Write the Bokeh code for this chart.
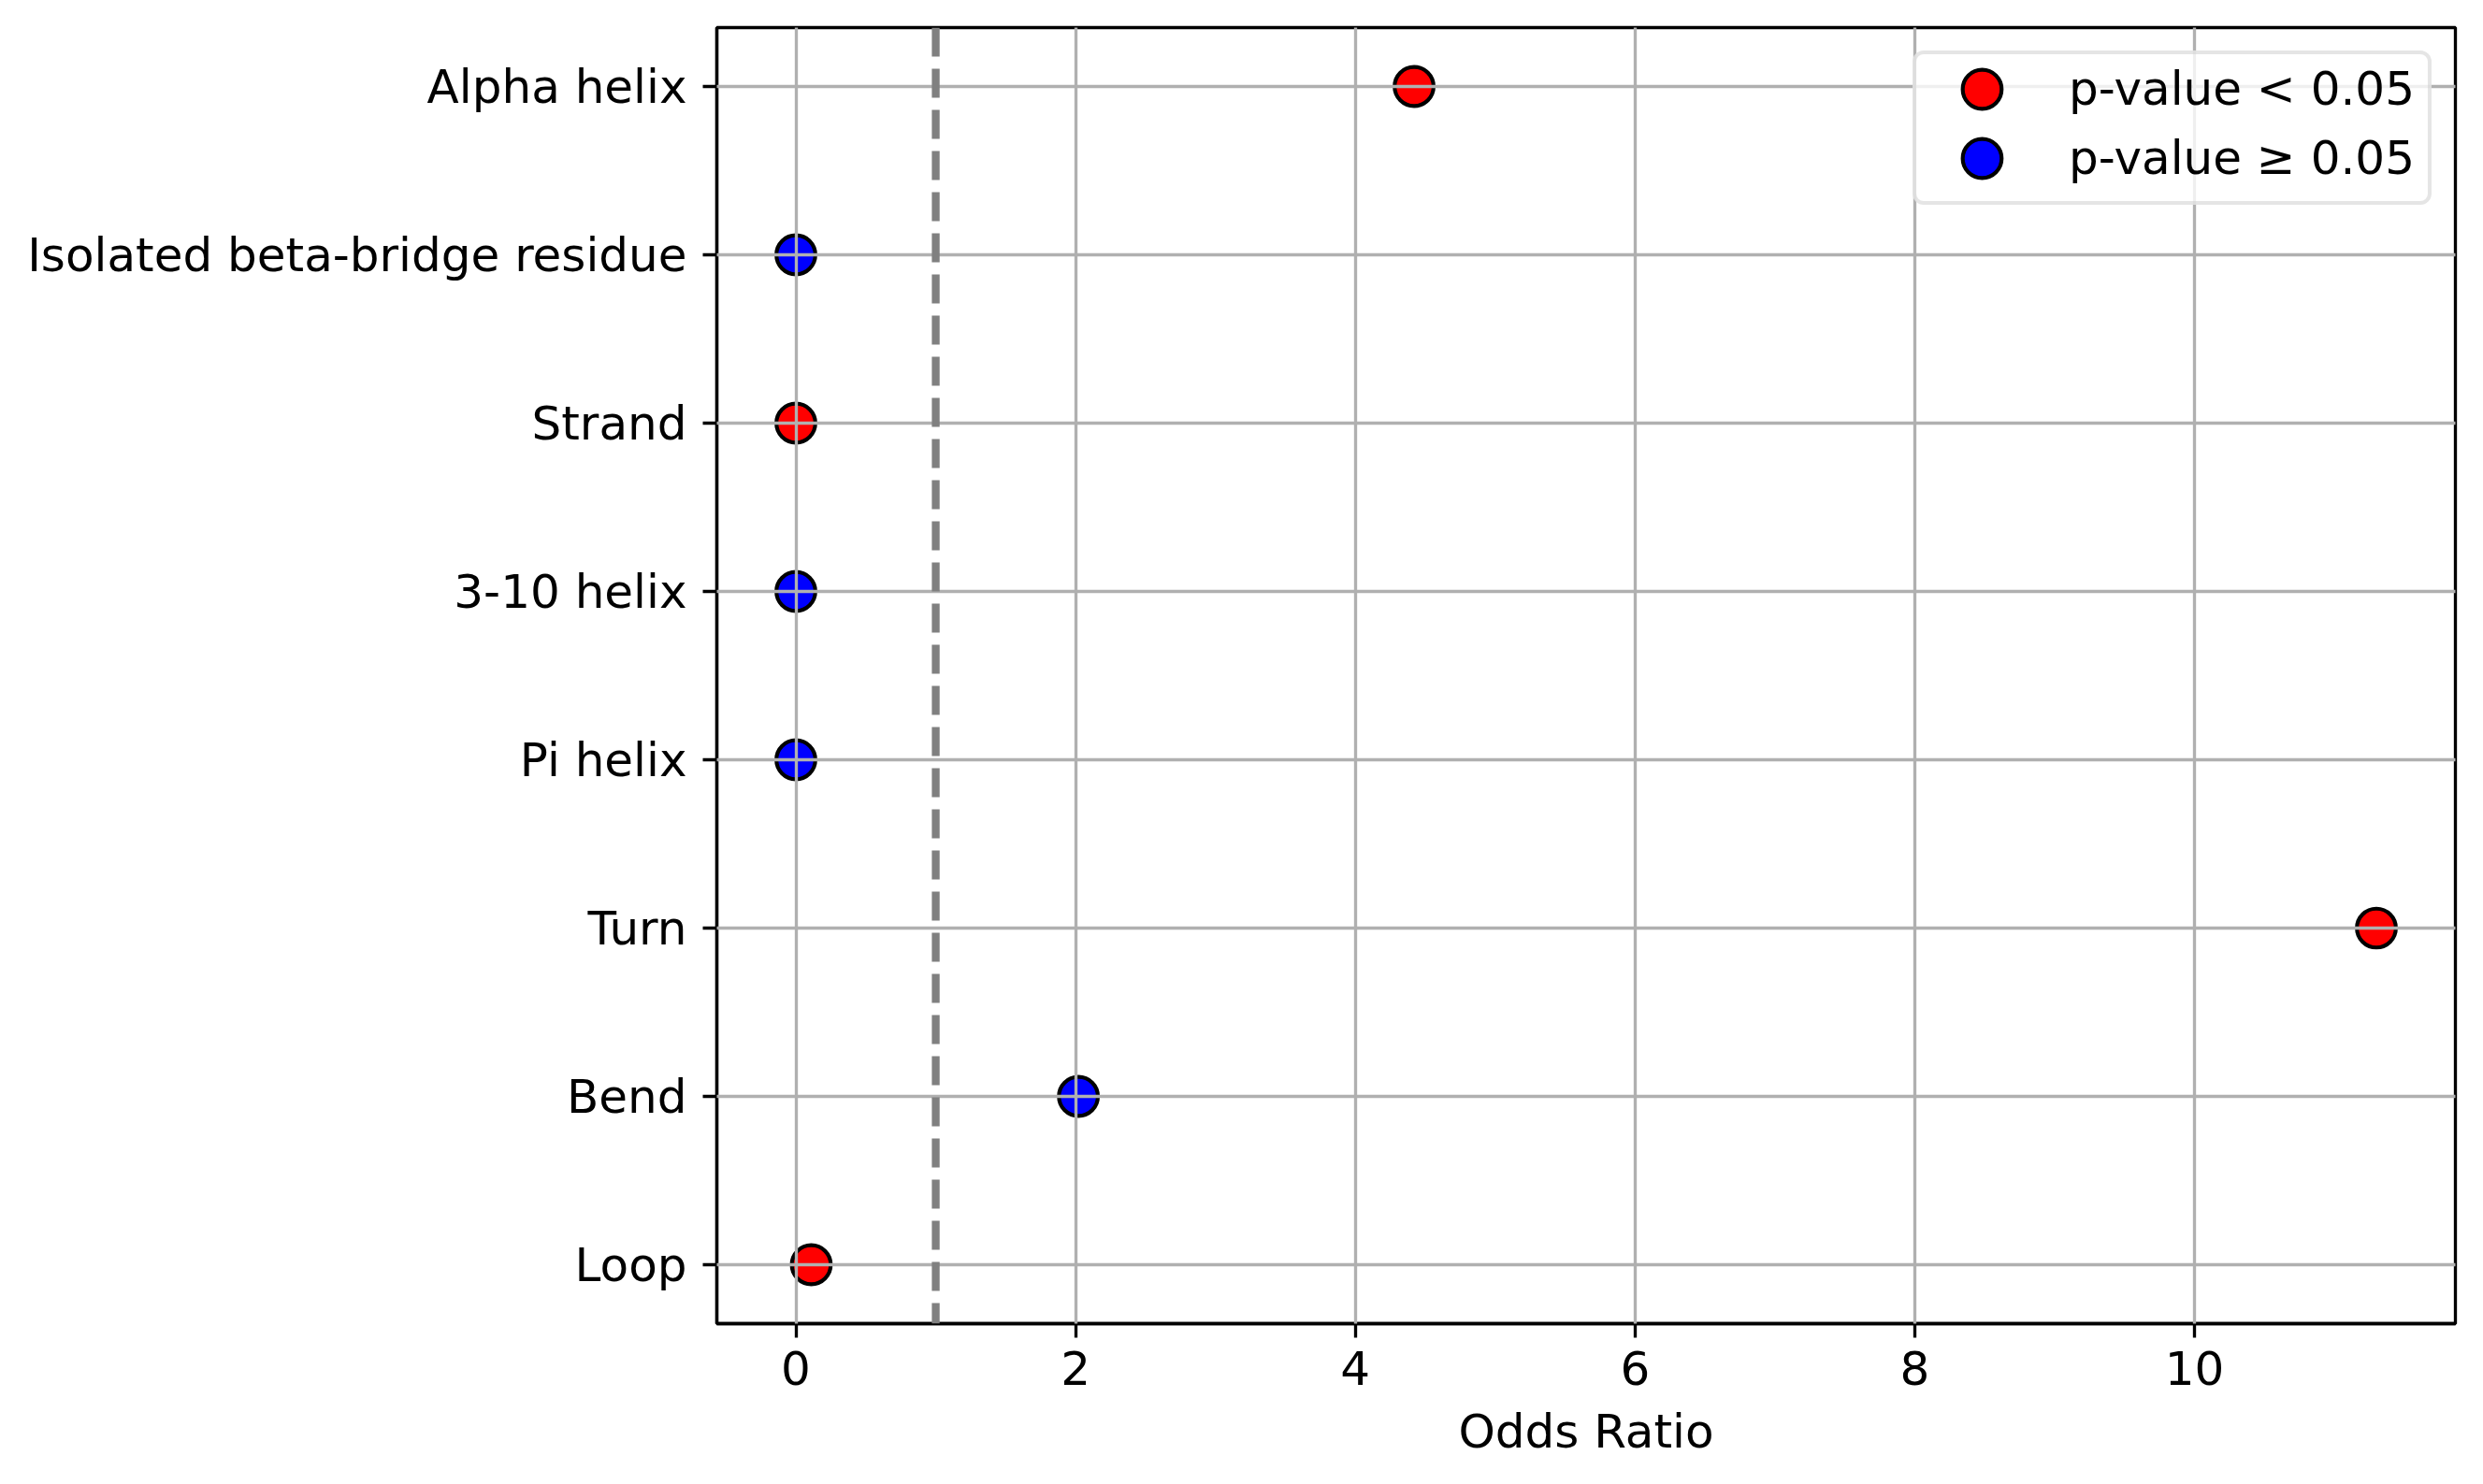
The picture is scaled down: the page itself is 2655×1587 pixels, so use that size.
from bokeh.plotting import figure
from bokeh.models import (ColumnDataSource, Range1d, FixedTicker, Span,
                          Legend, LegendItem)
from bokeh.embed import file_html
from bokeh.resources import INLINE

# ---- data ----
categories = ["Loop", "Bend", "Turn", "Pi helix", "3-10 helix", "Strand",
              "Isolated beta-bridge residue", "Alpha helix"]
odds_ratio = [0.11, 2.02, 11.30, 0.0, 0.0, 0.0, 0.0, 4.42]
significant = [True, False, True, False, False, True, False, True]
x_ticks = [0, 2, 4, 6, 8, 10]
legend_labels = ["p-value < 0.05", "p-value \u2265 0.05"]
reference_value = 1.0

FONT = "DejaVu Sans"
PT = 300 / 72.0  # matplotlib points -> px at 300 dpi
MARKER_D = 10 * PT

ypos = list(range(len(categories)))
sig_src = ColumnDataSource(dict(
    x=[v for v, s in zip(odds_ratio, significant) if s],
    y=[y for y, s in zip(ypos, significant) if s]))
ns_src = ColumnDataSource(dict(
    x=[v for v, s in zip(odds_ratio, significant) if not s],
    y=[y for y, s in zip(ypos, significant) if not s]))

xmin, xmax = 0.0, max(odds_ratio)
xpad = 0.05 * (xmax - xmin)
ypad = 0.05 * (len(categories) - 1)

p = figure(frame_width=1859, frame_height=1386,
           output_backend="svg", toolbar_location=None,
           x_range=Range1d(xmin - xpad, xmax + xpad),
           y_range=Range1d(-ypad, len(categories) - 1 + ypad),
           min_border_left=766, min_border_top=29,
           min_border_right=14, min_border_bottom=100)
p.background_fill_color = "white"
p.border_fill_color = "white"
p.outline_line_color = "black"
p.outline_line_width = 0.8 * PT

# circular markers (screen-sized ellipses so the legend glyph keeps full size)
r_sig = p.ellipse("x", "y", source=sig_src, width=MARKER_D, height=MARKER_D,
                  width_units="screen", height_units="screen",
                  fill_color="#ff0000", line_color="black",
                  line_width=1.0 * PT)
r_ns = p.ellipse("x", "y", source=ns_src, width=MARKER_D, height=MARKER_D,
                 width_units="screen", height_units="screen",
                 fill_color="#0000ff", line_color="black",
                 line_width=1.0 * PT)

# grid (drawn above markers, as in the reference)
for g in (p.xgrid, p.ygrid):
    g.grid_line_color = "#b0b0b0"
    g.grid_line_width = 0.8 * PT
    g.level = "annotation"
p.xgrid.ticker = FixedTicker(ticks=x_ticks)
p.ygrid.ticker = FixedTicker(ticks=ypos)

vline = Span(location=reference_value, dimension="height",
             line_color="#808080", line_width=2 * PT, line_dash="31 13",
             level="annotation")
p.add_layout(vline)

# axes
p.xaxis.ticker = FixedTicker(ticks=x_ticks)
p.yaxis.ticker = FixedTicker(ticks=ypos)
p.yaxis.major_label_overrides = {i: c for i, c in enumerate(categories)}
p.xaxis.axis_label = "Odds Ratio"
for ax in (p.xaxis[0], p.yaxis[0]):
    ax.axis_line_color = "black"
    ax.axis_line_width = 0.8 * PT
    ax.major_tick_line_color = "black"
    ax.major_tick_line_width = 0.8 * PT
    ax.major_tick_out = int(round(3.5 * PT))
    ax.major_tick_in = 0
    ax.minor_tick_line_color = None
    ax.major_label_text_font = FONT
    ax.major_label_text_font_size = "50px"
    ax.major_label_text_color = "black"
    ax.axis_label_text_font = FONT
    ax.axis_label_text_font_size = "50px"
    ax.axis_label_text_font_style = "normal"
    ax.axis_label_text_color = "black"
p.yaxis.major_label_standoff = 17
p.xaxis.major_label_standoff = 14
p.xaxis.axis_label_standoff = 18

legend = Legend(items=[LegendItem(label=legend_labels[0], renderers=[r_sig]),
                       LegendItem(label=legend_labels[1], renderers=[r_ns])],
                location="top_right")
legend.margin = 25
legend.spacing = 16
legend.glyph_height = 52
legend.glyph_width = 140
legend.label_height = 58
legend.padding = dict(left=0, right=14, top=8, bottom=17)
legend.label_standoff = 23
legend.label_text_font = FONT
legend.label_text_font_size = "50px"
legend.label_text_color = "black"
legend.border_line_color = "#cccccc"
legend.border_line_width = 1.0 * PT
legend.background_fill_color = "white"
legend.background_fill_alpha = 0.8
if "border_radius" in Legend.properties():
    legend.border_radius = 12
p.add_layout(legend)

open("out.html", "w").write(file_html(p, INLINE))
